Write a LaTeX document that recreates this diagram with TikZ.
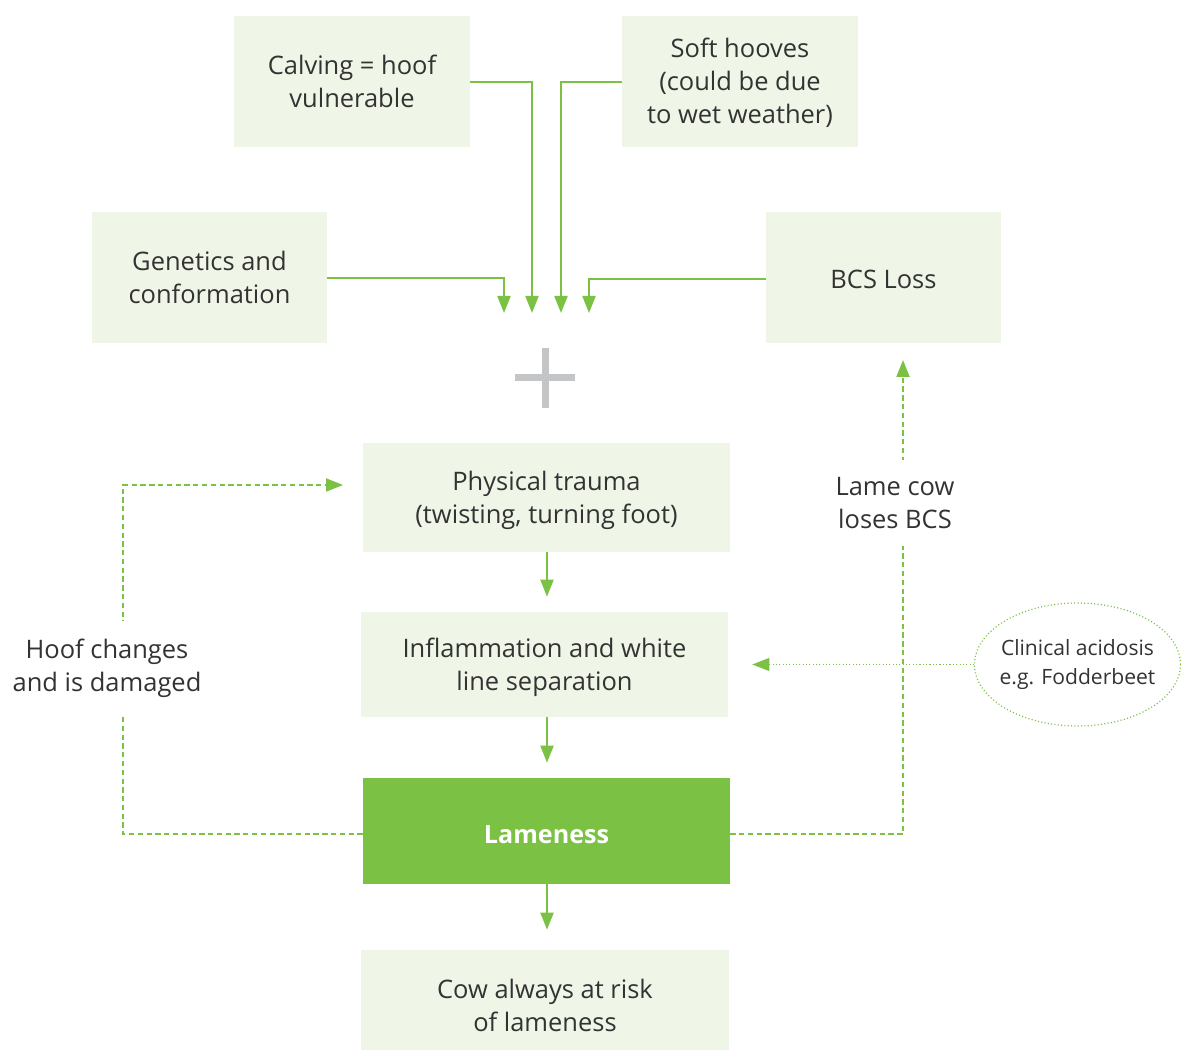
\documentclass[tikz,border=0pt]{standalone}
\usepackage{fontspec}
\setmainfont{Open Sans}
\usetikzlibrary{arrows.meta,shapes.geometric}
\definecolor{leaf}{HTML}{7BC143}
\definecolor{pale}{HTML}{EFF5E7}
\definecolor{ink}{HTML}{333333}
\definecolor{plusgray}{HTML}{C4C5C7}
\begin{document}
\begin{tikzpicture}[x=0.02cm,y=-0.02cm,
  font=\fontsize{14.5}{18.8}\selectfont, text=ink,
  box/.style={fill=pale,align=center,inner sep=0pt},
  arr/.style={draw=leaf,line width=1.2pt,-{Triangle[length=0.34cm,width=0.26cm]}},
  darr/.style={arr,dash pattern=on 3pt off 2pt},
  oarr/.style={arr,line width=0.7pt,dash pattern=on 0.6pt off 1.3pt},
  lbl/.style={fill=white,align=center,inner xsep=2pt,inner ysep=10pt}]
  \useasboundingbox (0,0) rectangle (1181,1050);
  % top causes
  \node[box,minimum width=4.72cm,minimum height=2.62cm] (calv) at (352,81.5) {Calving = hoof\\vulnerable};
  \node[box,minimum width=4.72cm,minimum height=2.62cm,text depth=1.2pt] (soft) at (740,81.5) {Soft hooves\\(could be due\\to wet weather)};
  \node[box,minimum width=4.7cm,minimum height=2.62cm] (gen) at (209.5,277.5) {Genetics and\\conformation};
  \node[box,minimum width=4.7cm,minimum height=2.62cm,text height=12.5pt] (bcs) at (883.5,277.5) {BCS Loss};
  \coordinate (t1) at (504,313); \coordinate (t2) at (532,313);
  \coordinate (t3) at (561,313); \coordinate (t4) at (589,313);
  \draw[arr] (gen.east |- 0,278) -| (t1);
  \draw[arr] (calv.east |- 0,82) -| (t2);
  \draw[arr] (soft.west |- 0,82) -| (t3);
  \draw[arr] (bcs.west |- 0,279) -| (t4);
  \draw[plusgray,line width=0.14cm] (515,378) -- (575,378) (545,348) -- (545,408);
  % chain
  \node[box,minimum width=7.34cm,minimum height=2.18cm,text depth=0pt] (trau) at (546.5,497.5) {Physical trauma\\(twisting, turning foot)};
  \node[box,minimum width=7.34cm,minimum height=2.1cm,text depth=0pt] (infl) at (544.5,664.5) {Inflammation and white\\line separation};
  \node[box,fill=leaf,minimum width=7.34cm,minimum height=2.12cm,text height=14.7pt,text=white,font=\fontsize{14.3}{18.8}\selectfont\bfseries] (lame) at (546.5,831) {Lameness};
  \node[box,minimum width=7.36cm,minimum height=2cm,text height=36pt] (risk) at (545,1000) {Cow always at risk\\of lameness};
  \draw[arr,shorten >=0.3cm] (trau.south -| 547,0) -- (infl.north -| 547,0);
  \draw[arr,shorten >=0.3cm] (infl.south -| 547,0) -- (lame.north -| 547,0);
  \draw[arr,shorten >=0.4cm] (lame.south -| 547,0) -- (risk.north -| 547,0);
  % feedback loops
  \coordinate (hk) at (123,485); \coordinate (htip) at (343,485);
  \coordinate (btip) at (903,360);
  \draw[darr] (lame.west |- 0,834) -| (hk) -- (htip);
  \draw[darr] (lame.east |- 0,834) -| (btip);
  \node[ellipse,draw=leaf,line width=0.7pt,dash pattern=on 0.6pt off 1.3pt,minimum width=4.12cm,minimum height=2.46cm,font=\fontsize{12}{16}\selectfont,align=center,inner xsep=-0.2cm,inner ysep=0pt] (acid) at (1077.5,664.5) {Clinical acidosis\\e.g. Fodderbeet};
  \draw[oarr,shorten >=0.48cm] (acid.west) -- (infl.east |- acid.west);
  \node[lbl] (hoof) at (107,668) {Hoof changes\\and is damaged};
  \node[lbl] (lose) at (895,503) {Lame cow\\loses BCS};
\end{tikzpicture}
\end{document}
